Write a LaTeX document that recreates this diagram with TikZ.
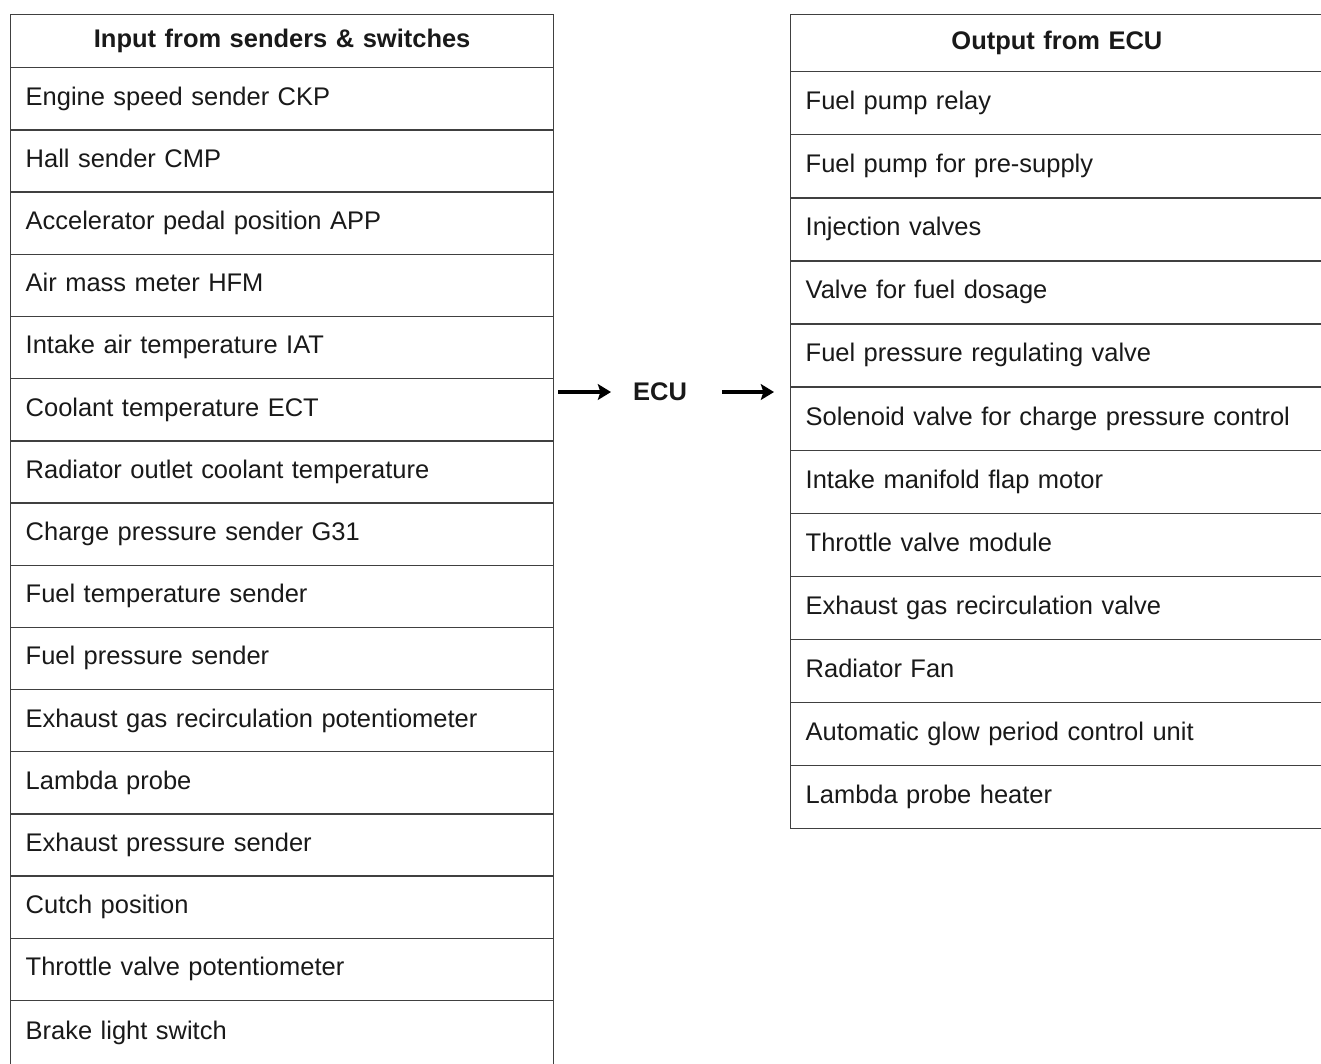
\documentclass[tikz,border=0pt]{standalone}
\usepackage{fontspec}
\setmainfont{Liberation Sans}
\usetikzlibrary{positioning, arrows.meta}

\begin{document}
\begin{tikzpicture}[
    x=.02cm, y=-.02cm,
    node distance = -.8pt,
    cell/.style={
        draw=black!75, line width=.8pt, rectangle, inner xsep=.3cm, inner ysep=0pt,
        text width=10.26cm, minimum height=1.244cm, align=left,
        text height=.72em, text depth=0pt, text=black!90,
        font=\fontsize{14.5}{17}\selectfont
    },
    outcell/.style={
        cell, text width=10.6cm, minimum height=1.262cm
    },
    head/.style={
        align=center, font=\fontsize{14.5}{17}\selectfont\bfseries
    },
    feed/.style={
        line width=2.6pt, -{Stealth[length=7.5pt, width=9pt, inset=1.5pt]}
    }
]

    \useasboundingbox (0,0) rectangle (1321,1063);
    \clip (0,0) rectangle (1321,1063);

    % inputs
    \node[cell,head,minimum height=1.06cm,anchor=north west] (inhdr) at (10,14) {Input from senders \& switches};
    \node[cell,below=of inhdr](in1){Engine speed sender CKP};
    \node[cell,below=of in1](in2){Hall sender CMP};
    \node[cell,below=of in2](in3){Accelerator pedal position APP};
    \node[cell,below=of in3](in4){Air mass meter HFM};
    \node[cell,below=of in4](in5){Intake air temperature IAT};
    \node[cell,below=of in5](in6){Coolant temperature ECT};
    \node[cell,below=of in6](in7){Radiator outlet coolant temperature};
    \node[cell,below=of in7](in8){Charge pressure sender G31};
    \node[cell,below=of in8](in9){Fuel temperature sender};
    \node[cell,below=of in9](in10){Fuel pressure sender};
    \node[cell,below=of in10](in11){Exhaust gas recirculation potentiometer};
    \node[cell,below=of in11](in12){Lambda probe};
    \node[cell,below=of in12](in13){Exhaust pressure sender};
    \node[cell,below=of in13](in14){Cutch position};
    \node[cell,below=of in14](in15){Throttle valve potentiometer};
    \node[cell,below=of in15,minimum height=1.3cm](in16){Brake light switch};

    % outputs
    \node[outcell,head,minimum height=1.14cm,anchor=north west] (outhdr) at (790,14) {\hspace*{-.55cm}Output from ECU};
    \node[outcell,below=of outhdr](out1){Fuel pump relay};
    \node[outcell,below=of out1](out2){Fuel pump for pre-supply};
    \node[outcell,below=of out2](out3){Injection valves};
    \node[outcell,below=of out3](out4){Valve for fuel dosage};
    \node[outcell,below=of out4](out5){Fuel pressure regulating valve};
    \node[outcell,below=of out5](out6){Solenoid valve for charge pressure control};
    \node[outcell,below=of out6](out7){Intake manifold flap motor};
    \node[outcell,below=of out7](out8){Throttle valve module};
    \node[outcell,below=of out8](out9){Exhaust gas recirculation valve};
    \node[outcell,below=of out9](out10){Radiator Fan};
    \node[outcell,below=of out10](out11){Automatic glow period control unit};
    \node[outcell,below=of out11](out12){Lambda probe heater};

    % ECU in the middle
    \node[head,inner sep=0pt,text=black!90] (ecu) at (660,392) {ECU};
    \coordinate (infrom) at (558,392);
    \coordinate (into) at (611,392);
    \coordinate (outfrom) at (722,392);
    \coordinate (outto) at (774,392);

    \draw[feed] (infrom) to (into);
    \draw[feed] (outfrom) to (outto);

\end{tikzpicture}
\end{document}
